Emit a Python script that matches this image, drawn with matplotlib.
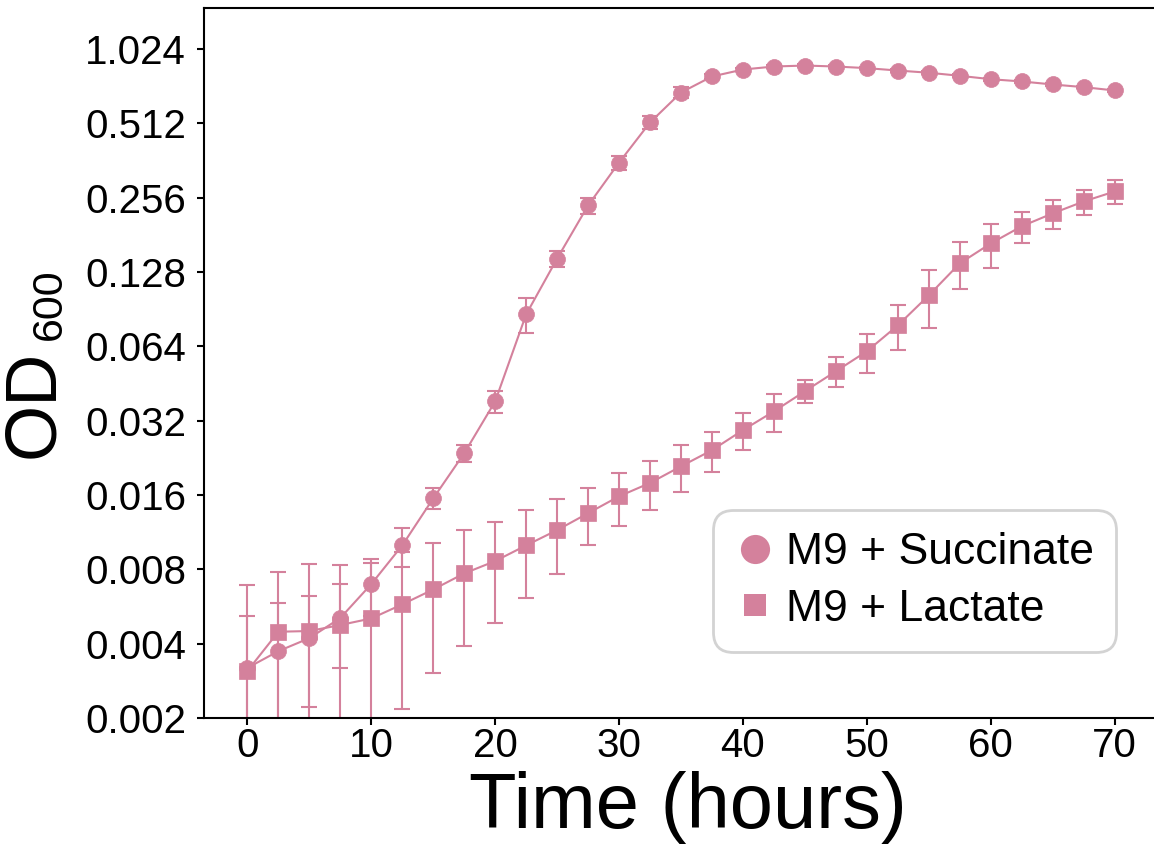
import matplotlib
matplotlib.use('Agg')
import matplotlib.pyplot as plt
from matplotlib.lines import Line2D

plt.rcParams['font.family'] = ['Liberation Sans', 'DejaVu Sans']

# sampling times (hours)
time = [0, 2.5, 5, 7.5, 10, 12.5, 15, 17.5, 20, 22.5, 25, 27.5, 30, 32.5, 35,
        37.5, 40, 42.5, 45, 47.5, 50, 52.5, 55, 57.5, 60, 62.5, 65, 67.5, 70]

# M9 + Succinate
succ_mean = [0.00319, 0.00373, 0.00421, 0.00508, 0.00697, 0.0100, 0.0155, 0.0236,
             0.0383, 0.0862, 0.145, 0.238, 0.355, 0.516, 0.682, 0.792, 0.845,
             0.869, 0.877, 0.869, 0.856, 0.837, 0.820, 0.797, 0.772, 0.756,
             0.735, 0.717, 0.695]
succ_err = [0.0020, 0.0021, 0.0020, 0.0019, 0.0018, 0.0018, 0.0015, 0.0018,
            0.0038, 0.014, 0.011, 0.018, 0.024, 0.030, 0.035, 0.02, 0.015,
            0.012, 0.01, 0.01, 0.01, 0.01, 0.01, 0.01, 0.01, 0.01, 0.01,
            0.008, 0.008]

# M9 + Lactate
lact_mean = [0.0031, 0.00447, 0.0045, 0.00476, 0.00506, 0.00577, 0.00663, 0.0077,
             0.00864, 0.0100, 0.01153, 0.0135, 0.0158, 0.0179, 0.0209, 0.0243,
             0.0293, 0.0349, 0.0421, 0.0507, 0.0611, 0.0778, 0.1029, 0.1387,
             0.167, 0.196, 0.221, 0.247, 0.271]
lact_err = [0.0038, 0.0033, 0.0039, 0.0036, 0.0034, 0.0036, 0.0036, 0.0038,
            0.0038, 0.0039, 0.0039, 0.0035, 0.0038, 0.004, 0.0045, 0.0044,
            0.005, 0.006, 0.0045, 0.007, 0.011, 0.016, 0.027, 0.030, 0.034,
            0.028, 0.030, 0.0285, 0.0295]

yticks = [0.002, 0.004, 0.008, 0.016, 0.032, 0.064, 0.128, 0.256, 0.512, 1.024]
ytick_labels = ['0.002', '0.004', '0.008', '0.016', '0.032', '0.064',
                '0.128', '0.256', '0.512', '1.024']
xticks = [0, 10, 20, 30, 40, 50, 60, 70]

pink = '#D4819C'

fig = plt.figure(figsize=(11.54, 8.48), dpi=100)
ax = fig.add_axes([0.1768, 0.1533, 0.8267, 0.8373])

# error bars first, then line + markers on top
for m, e in [(succ_mean, succ_err), (lact_mean, lact_err)]:
    ax.errorbar(time, m, yerr=e, fmt='none', ecolor=pink, elinewidth=1.5,
                capsize=6, capthick=1.5)
ax.plot(time, succ_mean, color=pink, marker='o', ms=11.5, mec=pink, mew=0.5, lw=1.5)
ax.plot(time, lact_mean, color=pink, marker='s', ms=11, mec=pink, mew=0.5, lw=1.5)

ax.set_yscale('log', base=2)
ax.set_ylim(0.002, 1.5)
ax.set_xlim(-3.5, 73.5)
ax.set_yticks(yticks)
ax.set_yticklabels(ytick_labels)
ax.minorticks_off()
ax.set_xticks(xticks)

ax.tick_params(axis='both', labelsize=29, length=5, width=1.5, direction='out')
ax.tick_params(axis='y', pad=8)
ax.tick_params(axis='x', pad=1.5)
for s in ax.spines.values():
    s.set_linewidth(1.5)

ax.set_xlabel('Time (hours)', fontsize=56, labelpad=4)
ax.xaxis.label.set_x(0.507)
fig.text(34.5 / 1154, 1 - 403.5 / 848, 'OD', rotation=90, fontsize=52,
         ha='center', va='center')
fig.text(49.5 / 1154, 1 - 304 / 848, '600', rotation=90, fontsize=31,
         ha='center', va='center')

handles = [Line2D([], [], ls='none', marker='o', ms=21, mew=0, color=pink),
           Line2D([], [], ls='none', marker='s', ms=16.5, mew=0, color=pink)]
leg = ax.legend(handles, ['M9 + Succinate', 'M9 + Lactate'], fontsize=32,
                loc='lower right', bbox_to_anchor=(0.956, 0.093),
                borderaxespad=0, handlelength=0.9, handletextpad=0.25,
                labelspacing=0.35, borderpad=0.5, framealpha=1)
frame = leg.get_frame()
frame.set_edgecolor('#d3d3d3')
frame.set_linewidth(2)
frame.set_boxstyle('round,pad=0,rounding_size=0.45')

fig.savefig('out.png', dpi=100)
